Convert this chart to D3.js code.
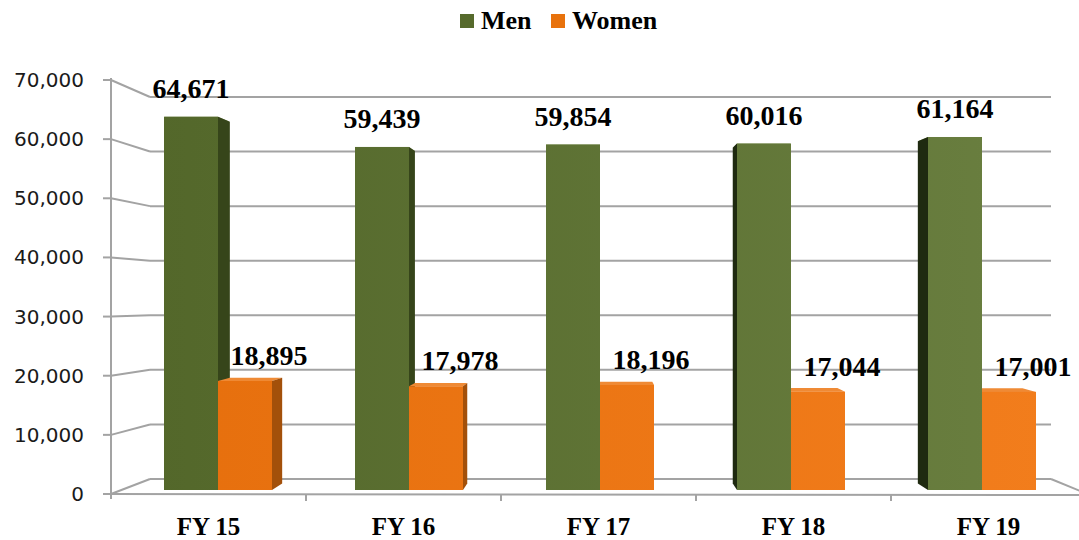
<!DOCTYPE html>
<html>
<head>
<meta charset="utf-8">
<script src="https://cdn.jsdelivr.net/npm/d3@7"></script>
<style>
  body { margin: 0; background: #fff; }
  svg { display: block; }
</style>
</head>
<body>
<div id="chart"></div>
<script>
// data
var years = ["FY 15", "FY 16", "FY 17", "FY 18", "FY 19"];
var series = ["Men", "Women"];
var men = [64671, 59439, 59854, 60016, 61164];
var women = [18895, 17978, 18196, 17044, 17001];
var yTicks = [0, 10000, 20000, 30000, 40000, 50000, 60000, 70000];

var W = 1079, H = 540;

var svg = d3.select("#chart")
    .append("svg")
    .attr("width", W)
    .attr("height", H);

// gradients for the bar fronts
var defs = svg.append("defs");
var gMen = defs.append("linearGradient").attr("id", "gMen")
    .attr("gradientUnits", "userSpaceOnUse")
    .attr("x1", 150).attr("x2", 1050).attr("y1", 0).attr("y2", 0);
gMen.append("stop").attr("offset", "0%").attr("stop-color", "#53672a");
gMen.append("stop").attr("offset", "100%").attr("stop-color", "#6a7f40");
var gWomen = defs.append("linearGradient").attr("id", "gWomen")
    .attr("gradientUnits", "userSpaceOnUse")
    .attr("x1", 150).attr("x2", 1050).attr("y1", 0).attr("y2", 0);
gWomen.append("stop").attr("offset", "0%").attr("stop-color", "#e66f0d");
gWomen.append("stop").attr("offset", "100%").attr("stop-color", "#f27d1c");

// scales: front edge of the side wall, back wall, and the plane of the bars
var yFront = d3.scaleLinear().domain([0, 70000]).range([494, 80]);
var yBack = d3.scaleLinear().domain([0, 70000]).range([479, 97]);
var yBar = d3.scaleLinear().domain([0, 70000]).range([490, 86]);

var xFloor = d3.scaleBand().domain(years).range([111, 1086]).padding(0);
var xBar = d3.scalePoint().domain(years).range([218, 982]);
var xSub = d3.scaleBand().domain(series).range([-54, 54]);

var backLeft = 150, backRight = 1051, frontLeft = 111;
var grid = "#a3a3a3";

// back wall gridlines
svg.append("g")
    .selectAll("line")
    .data(yTicks)
    .enter()
    .append("line")
    .attr("x1", backLeft).attr("x2", backRight)
    .attr("y1", function (d) { return yBack(d); })
    .attr("y2", function (d) { return yBack(d); })
    .attr("stroke", grid).attr("stroke-width", 2);

// side wall gridlines
svg.append("g")
    .selectAll("line")
    .data(yTicks)
    .enter()
    .append("line")
    .attr("x1", frontLeft).attr("x2", backLeft)
    .attr("y1", function (d) { return yFront(d); })
    .attr("y2", function (d) { return yBack(d); })
    .attr("stroke", grid).attr("stroke-width", 2);

// floor front edge and right edge
svg.append("line")
    .attr("x1", frontLeft).attr("x2", 1090)
    .attr("y1", yFront(0)).attr("y2", yFront(0) + 1)
    .attr("stroke", grid).attr("stroke-width", 2);
svg.append("line")
    .attr("x1", backRight).attr("x2", 1090)
    .attr("y1", yBack(0)).attr("y2", yFront(0) + 1)
    .attr("stroke", grid).attr("stroke-width", 2);

// vertical axis line + ticks
svg.append("line")
    .attr("x1", frontLeft).attr("x2", frontLeft)
    .attr("y1", yFront(70000) - 2).attr("y2", yFront(0) + 5)
    .attr("stroke", grid).attr("stroke-width", 2);
svg.append("g")
    .selectAll("line")
    .data(yTicks)
    .enter()
    .append("line")
    .attr("x1", frontLeft - 8).attr("x2", frontLeft)
    .attr("y1", function (d) { return yFront(d); })
    .attr("y2", function (d) { return yFront(d); })
    .attr("stroke", grid).attr("stroke-width", 2);

// category ticks on the floor edge
svg.append("g")
    .selectAll("line")
    .data(years.slice(1))
    .enter()
    .append("line")
    .attr("x1", function (d) { return xFloor(d); })
    .attr("x2", function (d) { return xFloor(d); })
    .attr("y1", yFront(0)).attr("y2", yFront(0) + 7)
    .attr("stroke", grid).attr("stroke-width", 2);

// y labels
svg.append("g")
    .selectAll("text")
    .data(yTicks)
    .enter()
    .append("text")
    .attr("x", 84)
    .attr("y", function (d) { return yFront(d) + 7; })
    .attr("text-anchor", "end")
    .style("font-family", "DejaVu Sans, Verdana, sans-serif")
    .style("font-size", "20px")
    .style("fill", "#1a1a1a")
    .text(function (d) { return d3.format(",")(d); });

// x labels
svg.append("g")
    .selectAll("text")
    .data(years)
    .enter()
    .append("text")
    .attr("x", function (d) { return xFloor(d) + xFloor.bandwidth() / 2; })
    .attr("y", 535)
    .attr("text-anchor", "middle")
    .style("font-family", "Liberation Serif, Times New Roman, serif")
    .style("font-weight", "bold")
    .style("font-size", "25px")
    .text(function (d) { return d; });

// bars with a simple perspective toward a vanishing point
var vp = { x: 600, y: 278 }, depth = 0.031;
function back(p) {
    return [p[0] + (vp.x - p[0]) * depth, p[1] + (vp.y - p[1]) * depth];
}

var bars = [];
years.forEach(function (yr, i) {
    bars.push({ year: yr, key: "Men", value: men[i] });
    bars.push({ year: yr, key: "Women", value: women[i] });
});
bars.forEach(function (d) {
    d.x0 = xBar(d.year) + xSub(d.key);
    d.x1 = d.x0 + xSub.bandwidth();
    d.y0 = yBar(d.value);
    d.y1 = yBar(0);
});

var colors = {
    Men: { front: "url(#gMen)", side: "#36451a", sideR: "#1f2a10", top: "#7d9152" },
    Women: { front: "url(#gWomen)", side: "#a3500a", sideR: "#a3500a", top: "#ef8a35" }
};

function pts(a) { return a.map(function (p) { return p.join(","); }).join(" "); }

var gBars = svg.append("g");
// side and top faces first
bars.forEach(function (d) {
    var tl = [d.x0, d.y0], tr = [d.x1, d.y0], bl = [d.x0, d.y1], br = [d.x1, d.y1];
    gBars.append("polygon")
        .attr("points", pts([tl, tr, back(tr), back(tl)]))
        .attr("fill", colors[d.key].top);
    if (d.x1 < vp.x) {
        gBars.append("polygon")
            .attr("points", pts([tr, back(tr), back(br), br]))
            .attr("fill", colors[d.key].side);
    } else if (d.x0 > vp.x) {
        gBars.append("polygon")
            .attr("points", pts([tl, back(tl), back(bl), bl]))
            .attr("fill", colors[d.key].sideR);
    }
});
// fronts
gBars.selectAll("rect")
    .data(bars)
    .enter()
    .append("rect")
    .attr("x", function (d) { return d.x0; })
    .attr("y", function (d) { return d.y0; })
    .attr("width", function (d) { return d.x1 - d.x0; })
    .attr("height", function (d) { return d.y1 - d.y0; })
    .attr("fill", function (d) { return colors[d.key].front; });

// value labels
svg.append("g")
    .selectAll("text")
    .data(bars)
    .enter()
    .append("text")
    .attr("x", function (d) { return (d.x0 + d.x1) / 2 + (d.key === "Women" ? 24 : 0); })
    .attr("y", function (d) { return d.y0 - (d.key === "Women" ? 16 : 19); })
    .attr("text-anchor", "middle")
    .style("font-family", "Liberation Serif, Times New Roman, serif")
    .style("font-weight", "bold")
    .style("font-size", "28px")
    .text(function (d) { return d3.format(",")(d.value); });

// legend
var legend = svg.append("g");
var legendX = { Men: 460, Women: 551 };
var legendFill = { Men: "#566a2c", Women: "#e8720c" };
series.forEach(function (s) {
    legend.append("rect")
        .attr("x", legendX[s]).attr("y", 14)
        .attr("width", 14).attr("height", 14)
        .attr("fill", legendFill[s]);
    legend.append("text")
        .attr("x", legendX[s] + 21).attr("y", 29)
        .style("font-family", "Liberation Serif, Times New Roman, serif")
        .style("font-weight", "bold")
        .style("font-size", "26px")
        .text(s);
});
</script>
</body>
</html>
